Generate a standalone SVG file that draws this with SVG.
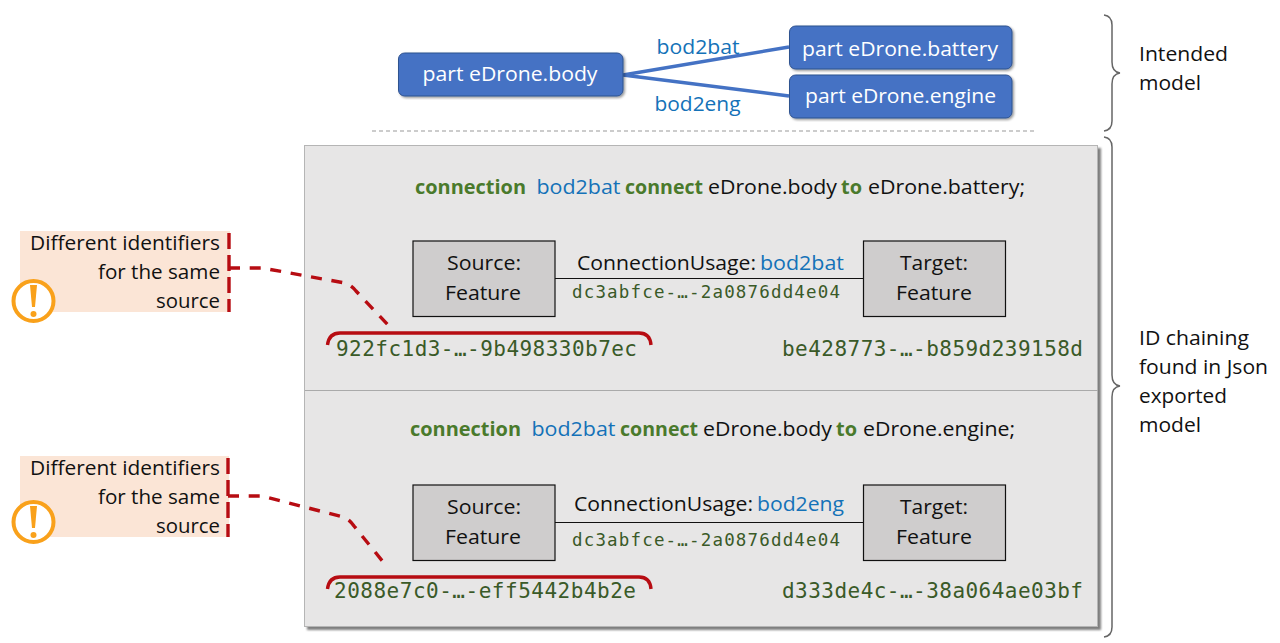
<svg xmlns="http://www.w3.org/2000/svg" width="1280" height="643" viewBox="0 0 1280 643">
<defs>
<style>
text{font-family:"Open Sans","Noto Sans","Liberation Sans",sans-serif;font-size:20px;fill:#111}
.w{fill:#fff}
.b{fill:#1472b8}
.g{fill:#4a7a2c;font-weight:700}
.m{font-family:"DejaVu Sans Mono","Liberation Mono",monospace;fill:#3a5a28}
.m1{font-size:17.5px}
.m2{font-size:21px}
.node{fill:#4472c4;stroke:#2f528f;stroke-width:1}
.f{fill:#cfcdcd;stroke:#111;stroke-width:1.2}
.e{fill:none;stroke:#4472c4;stroke-width:3.4}
.brace{fill:none;stroke:#666;stroke-width:1.5}
.r{fill:none;stroke:#b70c12;stroke-width:3.4}
.d{stroke-dasharray:11 9.7}
.v{stroke-dasharray:16 6}
.call{fill:#fbe5d6}
.warn{fill:#fff;stroke:#f9a11b;stroke-width:4}
.warnm{fill:#f9a11b}
.c{text-anchor:middle}
.e2{text-anchor:end}
</style>
<filter id="s" x="-5%" y="-5%" width="112%" height="112%"><feDropShadow dx="1.500" dy="1.500" stdDeviation="1.200" flood-color="#000" flood-opacity=".4"/></filter>
<filter id="p" x="-2%" y="-2%" width="104%" height="104%"><feDropShadow dx="3" dy="3" stdDeviation="1.300" flood-color="#000" flood-opacity=".5"/></filter>
</defs>
<g id="connectors">
<path class="e" d="M623 75L789 47M623 75L789 96"/>
<path d="M372 131H1035" fill="none" stroke="#999" stroke-width="1" stroke-dasharray="4 3"/>
</g>
<g id="node-body"><rect class="node" x="398.500" y="53" width="224.500" height="43" rx="6" filter="url(#s)"/><text class="w c" x="510" y="81" textLength="175" lengthAdjust="spacingAndGlyphs">part eDrone.body</text></g>
<g id="node-battery"><rect class="node" x="789.500" y="26" width="222.500" height="43" rx="6" filter="url(#s)"/><text class="w c" x="900" y="56" textLength="196" lengthAdjust="spacingAndGlyphs">part eDrone.battery</text></g>
<g id="node-engine"><rect class="node" x="789.500" y="75" width="222.500" height="43" rx="6" filter="url(#s)"/><text class="w c" x="900.500" y="103" textLength="191" lengthAdjust="spacingAndGlyphs">part eDrone.engine</text></g>
<text class="b" x="656.500" y="54" textLength="83" lengthAdjust="spacingAndGlyphs">bod2bat</text>
<text class="b" x="654.500" y="111" textLength="86" lengthAdjust="spacingAndGlyphs">bod2eng</text>
<g id="brace-top"><path class="brace" d="M1104 15Q1112 16 1112 25V62Q1112 72 1120 73Q1112 74 1112 84V121Q1112 130 1104 131"/><text x="1139" y="61" textLength="89" lengthAdjust="spacingAndGlyphs">Intended</text><text x="1139" y="90" textLength="62" lengthAdjust="spacingAndGlyphs">model</text></g>
<g id="brace-bottom"><path class="brace" d="M1104 137Q1112 138 1112 147V375Q1112 385 1120 386Q1112 387 1112 397V627Q1112 636 1104 637"/><text x="1139" y="345" textLength="110" lengthAdjust="spacingAndGlyphs">ID chaining</text><text x="1139" y="374" textLength="129" lengthAdjust="spacingAndGlyphs">found in Json</text><text x="1139" y="403" textLength="88" lengthAdjust="spacingAndGlyphs">exported</text><text x="1139" y="432" textLength="62" lengthAdjust="spacingAndGlyphs">model</text></g>
<g id="panel"><rect x="304.500" y="145.500" width="793" height="481" fill="#e7e6e6" stroke="#b5b5b5" stroke-width="1" filter="url(#p)"/><path d="M305 390.500H1098" stroke="#aaa" stroke-width="1"/></g>
<g id="section-1">
<text class="g" x="415" y="194" textLength="111" lengthAdjust="spacingAndGlyphs">connection</text><text class="b" x="536.500" y="194" textLength="84" lengthAdjust="spacingAndGlyphs">bod2bat</text><text class="g" x="625" y="194" textLength="78" lengthAdjust="spacingAndGlyphs">connect</text><text x="708" y="194" textLength="129" lengthAdjust="spacingAndGlyphs">eDrone.body</text><text class="g" x="841" y="194" textLength="21" lengthAdjust="spacingAndGlyphs">to</text><text x="868" y="194" textLength="157" lengthAdjust="spacingAndGlyphs">eDrone.battery;</text>
<path d="M555 278.500H863" stroke="#111" stroke-width="1"/>
<g id="source-1"><rect class="f" x="413" y="241" width="142" height="75.500"/><text class="c" x="484" y="270" textLength="74" lengthAdjust="spacingAndGlyphs">Source:</text><text class="c" x="483" y="300" textLength="76" lengthAdjust="spacingAndGlyphs">Feature</text></g>
<g id="target-1"><rect class="f" x="863.500" y="241" width="142" height="75.500"/><text class="c" x="934" y="270" textLength="68" lengthAdjust="spacingAndGlyphs">Target:</text><text class="c" x="934" y="300" textLength="76" lengthAdjust="spacingAndGlyphs">Feature</text></g>
<text x="577" y="270" textLength="179" lengthAdjust="spacingAndGlyphs">ConnectionUsage:</text><text class="b" x="760" y="270" textLength="84" lengthAdjust="spacingAndGlyphs">bod2bat</text>
<text class="m m1" x="572" y="298" textLength="268">dc3abfce-…-2a0876dd4e04</text>
<text class="m m2" x="336" y="356" textLength="301">922fc1d3-…-9b498330b7ec</text>
<text class="m m2" x="782" y="356" textLength="301">be428773-…-b859d239158d</text>
<path class="r" d="M327.500 345Q329 333 340 333H639Q650 333 651 345"/>
</g>
<g id="section-2">
<text class="g" x="410" y="436" textLength="111" lengthAdjust="spacingAndGlyphs">connection</text><text class="b" x="531.500" y="436" textLength="84" lengthAdjust="spacingAndGlyphs">bod2bat</text><text class="g" x="620" y="436" textLength="78" lengthAdjust="spacingAndGlyphs">connect</text><text x="703" y="436" textLength="129" lengthAdjust="spacingAndGlyphs">eDrone.body</text><text class="g" x="836" y="436" textLength="21" lengthAdjust="spacingAndGlyphs">to</text><text x="863" y="436" textLength="152" lengthAdjust="spacingAndGlyphs">eDrone.engine;</text>
<path d="M555 522.500H863" stroke="#111" stroke-width="1"/>
<g id="source-2"><rect class="f" x="413" y="485" width="142" height="75.500"/><text class="c" x="484" y="514" textLength="74" lengthAdjust="spacingAndGlyphs">Source:</text><text class="c" x="483" y="544" textLength="76" lengthAdjust="spacingAndGlyphs">Feature</text></g>
<g id="target-2"><rect class="f" x="863.500" y="485" width="142" height="75.500"/><text class="c" x="934" y="514" textLength="68" lengthAdjust="spacingAndGlyphs">Target:</text><text class="c" x="934" y="544" textLength="76" lengthAdjust="spacingAndGlyphs">Feature</text></g>
<text x="574" y="511" textLength="179" lengthAdjust="spacingAndGlyphs">ConnectionUsage:</text><text class="b" x="757" y="511" textLength="87" lengthAdjust="spacingAndGlyphs">bod2eng</text>
<text class="m m1" x="572" y="546" textLength="268">dc3abfce-…-2a0876dd4e04</text>
<text class="m m2" x="334" y="598" textLength="302">2088e7c0-…-eff5442b4b2e</text>
<text class="m m2" x="782" y="598" textLength="301">d333de4c-…-38a064ae03bf</text>
<path class="r" d="M327.500 589Q329 577 340 577H639Q650 577 651 589"/>
</g>
<g id="callout-1"><rect class="call" x="20" y="231" width="210" height="81"/><path class="r v" d="M229 233V312"/><path class="r d" d="M229 268H262L345 283Q351 285 356 291L390 327"/>
<text class="e2" x="220" y="250" textLength="190" lengthAdjust="spacingAndGlyphs">Different identifiers</text><text class="e2" x="220" y="279" textLength="122" lengthAdjust="spacingAndGlyphs">for the same</text><text class="e2" x="220" y="308" textLength="64" lengthAdjust="spacingAndGlyphs">source</text>
<circle class="warn" cx="33.500" cy="301" r="20"/><path class="warnm" d="M30 285H37L35 307H32Z"/><circle class="warnm" cx="33.500" cy="314" r="3"/></g>
<g id="callout-2"><rect class="call" x="20" y="456" width="209" height="81"/><path class="r v" d="M228 458V537"/><path class="r d" d="M228 496H262L343 517Q349 519 354 526L384 563"/>
<text class="e2" x="220" y="475" textLength="190" lengthAdjust="spacingAndGlyphs">Different identifiers</text><text class="e2" x="220" y="504" textLength="122" lengthAdjust="spacingAndGlyphs">for the same</text><text class="e2" x="220" y="533" textLength="64" lengthAdjust="spacingAndGlyphs">source</text>
<circle class="warn" cx="33.500" cy="522" r="20"/><path class="warnm" d="M30 506H37L35 528H32Z"/><circle class="warnm" cx="33.500" cy="535" r="3"/></g>
</svg>
